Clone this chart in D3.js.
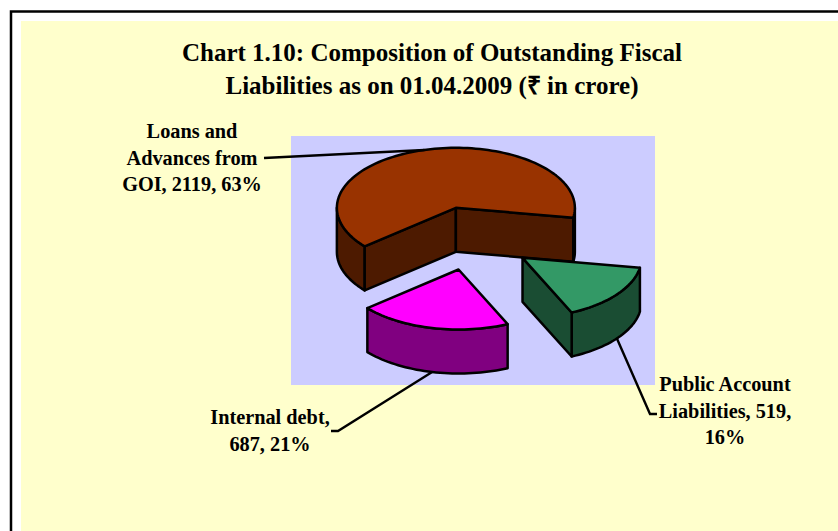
<!DOCTYPE html>
<html><head><meta charset="utf-8">
<script src="https://cdn.jsdelivr.net/npm/d3@7"></script>
<style>html,body{margin:0;padding:0;background:#fff}svg{display:block}text{font-family:"Liberation Serif",serif;font-weight:bold;fill:#000}</style>
</head><body><svg id="c" width="838" height="531"></svg>
<script>
const titleLines = ["Chart 1.10: Composition of Outstanding Fiscal", "Liabilities as on 01.04.2009 (₹ in crore)"];
const categories = ["Loans and Advances from GOI", "Public Account Liabilities", "Internal debt"];
const values = [2119, 519, 687];
const percents = [63, 16, 21];
const topColors = ["#993300", "#339966", "#ff00ff"];
const sideColors = ["#4d1a00", "#1a4d33", "#800080"];
const labelLines = [
  ["Loans and", "Advances from", "GOI, 2119, 63%"],
  ["Public Account", "Liabilities, 519,", "16%"],
  ["Internal debt,", "687, 21%"]
];
const labelAnchors = [{x:192,y:138},{x:725,y:391},{x:270,y:424}];
const leaderElbows = [[[264,158]],[[650,414],[657,414]],[[338,431],[331,431]]];

const svg = d3.select("#c");
svg.append("rect").attr("width",838).attr("height",531).attr("fill","#fff");
svg.append("path").attr("d","M838,11.5H11V531").attr("fill","none").attr("stroke","#000").attr("stroke-width",2.5);
svg.append("rect").attr("x",21).attr("y",21).attr("width",817).attr("height",510).attr("fill","#ffffcc");
svg.append("rect").attr("x",291).attr("y",136).attr("width",364).attr("height",249).attr("fill","#ccccff");

const t = svg.append("g").attr("text-anchor","middle").attr("font-size",25);
titleLines.forEach((s,i)=>t.append("text").attr("x",432).attr("y",61+i*33).text(s));

const rad = d=>d*Math.PI/180;
const rx=119, ry=60, depth=44, explode=0.53, cx=472.5, cy=238.5;
const pie = d3.pie().sort(null).startAngle(rad(230)).endAngle(rad(230+360));
const arcs = pie(values);
// project a pie angle (clockwise from 12 o'clock) to the screen, with the slice's own explode offset
const sx = d3.scaleLinear().domain([-1,1]).range([cx-rx,cx+rx]);
const sy = d3.scaleLinear().domain([-1,1]).range([cy-ry,cy+ry]);
const P = (a,r,o,z=0)=>{
  const ox=explode*Math.sin(o), oy=-explode*Math.cos(o);
  return [sx(r*Math.sin(a)+ox), sy(-r*Math.cos(a)+oy)+z];
};
const line = d3.line();
const samples=(a0,a1)=>{const n=Math.max(2,Math.ceil(Math.abs(a1-a0)/rad(2)));return d3.range(n+1).map(i=>a0+(a1-a0)*i/n);};
const style = (s,fill)=>s.attr("fill",fill).attr("stroke","#000").attr("stroke-width",2.5).attr("stroke-linejoin","round");

arcs.forEach((d,i)=>{
  const mid=(d.startAngle+d.endAngle)/2, g=svg.append("g");
  // outer wall: only the parts on the front half of the ellipse
  [[rad(90),rad(270)],[rad(450),rad(630)]].forEach(([lo,hi])=>{
    const a0=Math.max(d.startAngle,lo), a1=Math.min(d.endAngle,hi);
    if(a1<=a0) return;
    const top=samples(a0,a1).map(a=>P(a,1,mid)), bot=samples(a0,a1).map(a=>P(a,1,mid,depth)).reverse();
    style(g.append("path").attr("d",line(top.concat(bot))+"Z"),sideColors[i]);
  });
  // radial cut faces that look towards the viewer
  [[d.startAngle,1],[d.endAngle,-1]].forEach(([a,sign])=>{
    const o=P(0,0,mid), e=P(a,1,mid), n=P(a+sign*rad(5),1,mid);
    const ex=e[0]-o[0], ey=e[1]-o[1];
    const crossI=ex*(n[1]-o[1])-ey*(n[0]-o[0]), crossD=ex;
    if(crossI*crossD>=0) return;
    style(g.append("path").attr("d",line([o,e,P(a,1,mid,depth),P(0,0,mid,depth)])+"Z"),sideColors[i]);
  });
  // top surface
  const pts=[P(0,0,mid)].concat(samples(d.startAngle,d.endAngle).map(a=>P(a,1,mid)));
  style(g.append("path").attr("d",line(pts)+"Z"),topColors[i]);
});

// leader lines and labels
arcs.forEach((d,i)=>{
  const mid=(d.startAngle+d.endAngle)/2;
  const start=P(mid,1,mid,i===0?0:depth);
  svg.append("path").attr("d",line([start].concat(leaderElbows[i]))).attr("fill","none").attr("stroke","#000").attr("stroke-width",2.4);
  const g=svg.append("g").attr("text-anchor","middle").attr("font-size",20.3);
  labelLines[i].forEach((s,k)=>g.append("text").attr("x",labelAnchors[i].x).attr("y",labelAnchors[i].y+k*26.5).text(s));
});
</script></body></html>
